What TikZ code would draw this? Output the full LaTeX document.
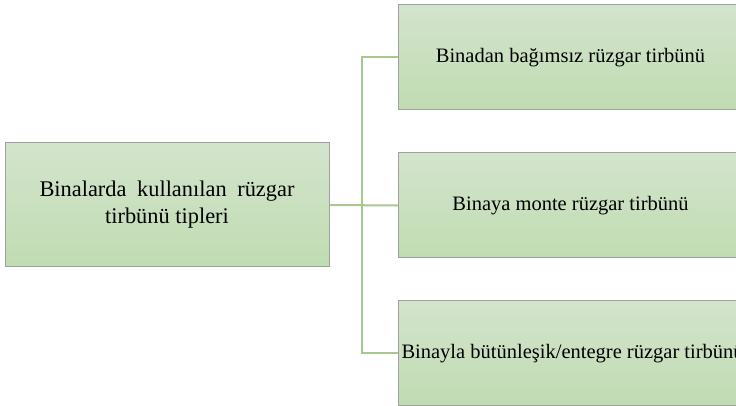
\documentclass[tikz,border=0pt]{standalone}
\usepackage{fontspec}
\setmainfont{Liberation Serif}
\usetikzlibrary{positioning}
\definecolor{boxtop}{RGB}{211,228,204}
\definecolor{boxbot}{RGB}{192,220,178}
\definecolor{boxline}{RGB}{160,160,160}
\definecolor{linkgreen}{RGB}{168,200,142}
\tikzset{%
    typebox/.style={%
        draw=boxline, line width=1pt, top color=boxtop, bottom color=boxbot,
        minimum height=105pt, inner xsep=3pt,
        font=\fontsize{20.5}{25}\selectfont
    },
    link/.style={draw=linkgreen, line width=2pt}
}
\begin{document}
\begin{tikzpicture}[x=1pt,y=1pt]
\clip (0,0) rectangle (736,406);
\node[typebox, minimum width=324pt, minimum height=124pt, align=center,
      font=\fontsize{22.4}{27}\selectfont] (main) at (167,201)
  {\makebox[255pt][s]{Binalarda kullanılan rüzgar}\\tirbünü tipleri};

\node[typebox, minimum width=344pt, anchor=west] (top) at (398,348.5) {Binadan bağımsız rüzgar tirbünü};
\node[typebox, minimum width=344pt, anchor=west] (mid) at (398,200.5) {Binaya monte rüzgar tirbünü};
\node[typebox, minimum width=344pt, anchor=west] (bot) at (398,52.5) {Binayla bütünleşik/entegre rüzgar tirbünü};

\coordinate (split) at (362,201);

\draw[link] (main.east) -- (mid.west);
\draw[link] (top.west) -| (split) |- (bot.west);
\end{tikzpicture}
\end{document}
